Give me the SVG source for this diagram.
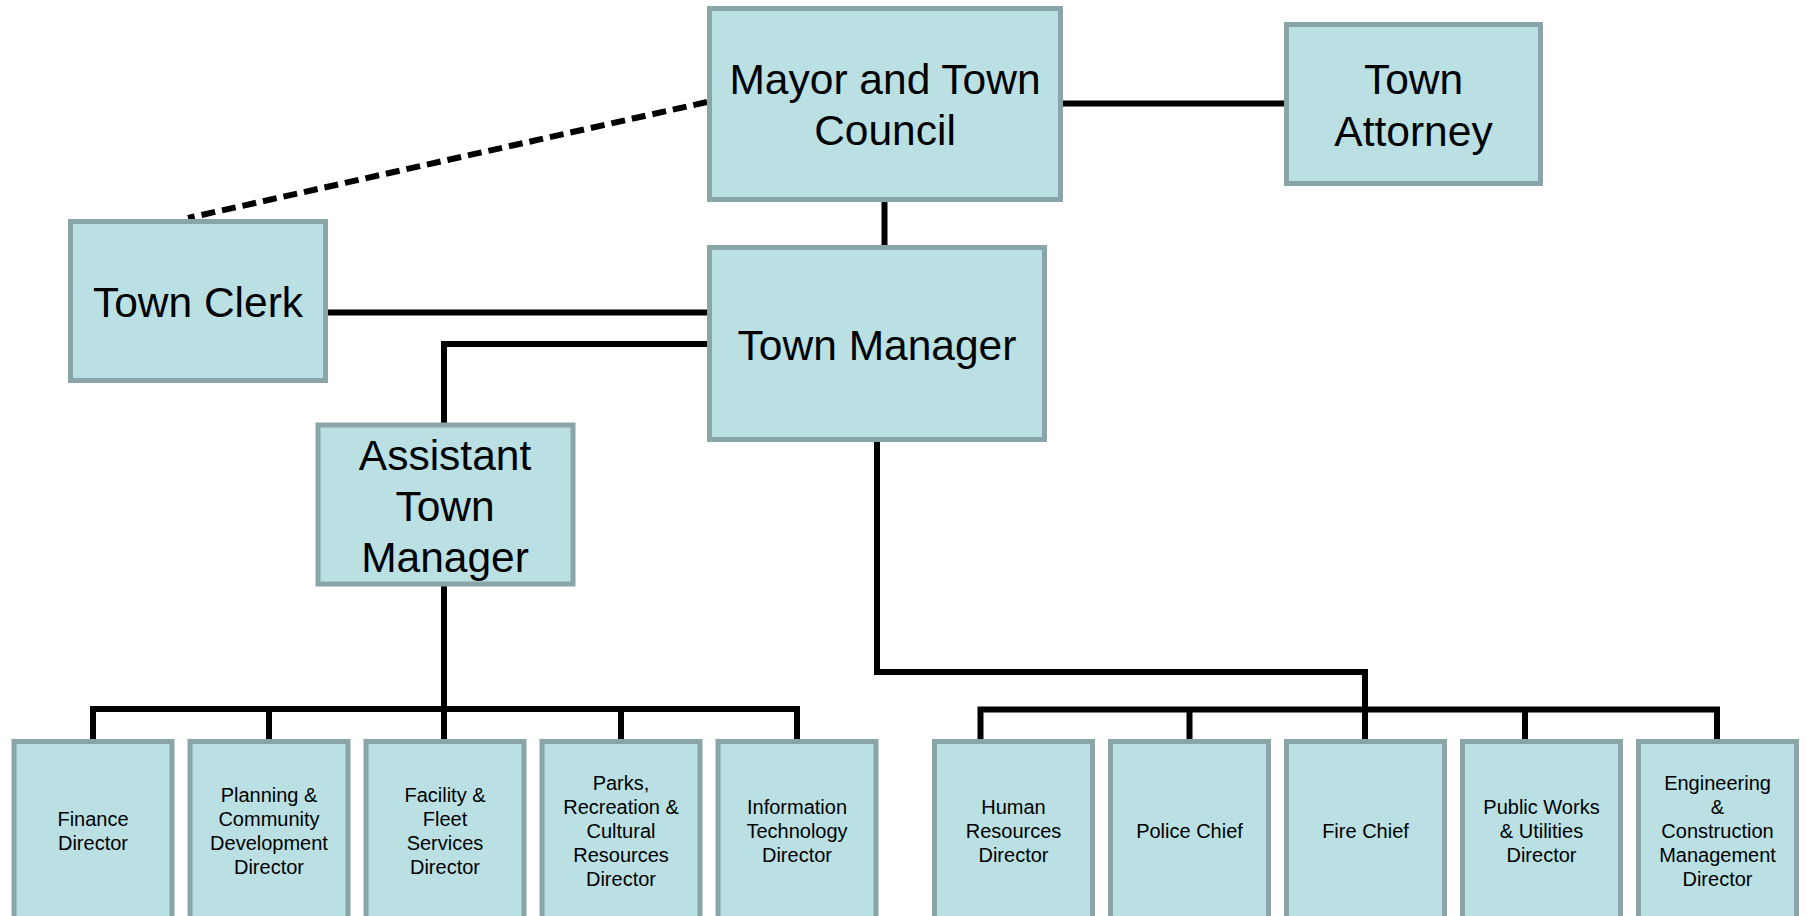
<svg xmlns="http://www.w3.org/2000/svg" width="1807" height="916" viewBox="0 0 1807 916">
<style>
.box{fill:#BBE0E3;stroke:#8AA5A8;stroke-width:5}
.big{font-family:"Liberation Sans",Arial,sans-serif;font-size:42.5px;fill:#000;text-anchor:middle}
.sm{font-family:"Liberation Sans",Arial,sans-serif;font-size:20px;fill:#000;text-anchor:middle}
.ln{fill:none;stroke:#000;stroke-width:6;stroke-linejoin:miter;stroke-linecap:butt}
.dash{fill:none;stroke:#000;stroke-width:6;stroke-dasharray:14 7}
</style>
<rect width="1807" height="916" fill="#fff"/>
<g id="connectors">
<path class="ln" d="M1063,103.5 H1284"/>
<path class="dash" d="M707,102 L188,218"/>
<path class="ln" d="M884.5,202 V245"/>
<path class="ln" d="M327,312.5 H707"/>
<path class="ln" d="M707,344 H444 V423"/>
<path class="ln" d="M444,586 V741"/>
<path class="ln" d="M93,741 V709 H797 V741"/>
<path class="ln" d="M269,709 V741 M621,709 V741"/>
<path class="ln" d="M877,442 V672 H1365 V741"/>
<path class="ln" d="M980.5,741 V709.5 H1717 V741"/>
<path class="ln" d="M1189.5,709.5 V741 M1525,709.5 V741"/>
</g>
<g id="mayor">
<rect class="box" x="709.5" y="8.5" width="351" height="191"/>
<text class="big" x="885" y="93.5">Mayor and Town</text>
<text class="big" x="885" y="145">Council</text>
</g>
<g id="attorney">
<rect class="box" x="1286.5" y="24.5" width="254" height="159"/>
<text class="big" x="1413.5" y="94">Town</text>
<text class="big" x="1413.5" y="145.5">Attorney</text>
</g>
<g id="clerk">
<rect class="box" x="70.5" y="221.5" width="255" height="159"/>
<text class="big" x="198" y="316.5">Town Clerk</text>
</g>
<g id="manager">
<rect class="box" x="709.5" y="247.5" width="335" height="192"/>
<text class="big" x="877" y="359.5">Town Manager</text>
</g>
<g id="assistant">
<rect class="box" x="318" y="425" width="255" height="159"/>
<text class="big" x="445" y="470">Assistant</text>
<text class="big" x="445" y="521">Town</text>
<text class="big" x="445" y="572">Manager</text>
</g>
<g id="finance">
<rect class="box" x="14" y="741.5" width="158" height="200"/>
<text class="sm" x="93" y="826">Finance</text>
<text class="sm" x="93" y="850">Director</text>
</g>
<g id="planning">
<rect class="box" x="190" y="741.5" width="158" height="200"/>
<text class="sm" x="269" y="802">Planning &amp;</text>
<text class="sm" x="269" y="826">Community</text>
<text class="sm" x="269" y="850">Development</text>
<text class="sm" x="269" y="874">Director</text>
</g>
<g id="facility">
<rect class="box" x="366" y="741.5" width="158" height="200"/>
<text class="sm" x="445" y="802">Facility &amp;</text>
<text class="sm" x="445" y="826">Fleet</text>
<text class="sm" x="445" y="850">Services</text>
<text class="sm" x="445" y="874">Director</text>
</g>
<g id="parks">
<rect class="box" x="542" y="741.5" width="158" height="200"/>
<text class="sm" x="621" y="790">Parks,</text>
<text class="sm" x="621" y="814">Recreation &amp;</text>
<text class="sm" x="621" y="838">Cultural</text>
<text class="sm" x="621" y="862">Resources</text>
<text class="sm" x="621" y="886">Director</text>
</g>
<g id="it">
<rect class="box" x="718" y="741.5" width="158" height="200"/>
<text class="sm" x="797" y="814">Information</text>
<text class="sm" x="797" y="838">Technology</text>
<text class="sm" x="797" y="862">Director</text>
</g>
<g id="hr">
<rect class="box" x="934.5" y="741.5" width="158" height="200"/>
<text class="sm" x="1013.5" y="814">Human</text>
<text class="sm" x="1013.5" y="838">Resources</text>
<text class="sm" x="1013.5" y="862">Director</text>
</g>
<g id="police">
<rect class="box" x="1110.5" y="741.5" width="158" height="200"/>
<text class="sm" x="1189.5" y="838">Police Chief</text>
</g>
<g id="fire">
<rect class="box" x="1286.5" y="741.5" width="158" height="200"/>
<text class="sm" x="1365.5" y="838">Fire Chief</text>
</g>
<g id="publicworks">
<rect class="box" x="1462.5" y="741.5" width="158" height="200"/>
<text class="sm" x="1541.5" y="814">Public Works</text>
<text class="sm" x="1541.5" y="838">&amp; Utilities</text>
<text class="sm" x="1541.5" y="862">Director</text>
</g>
<g id="engineering">
<rect class="box" x="1638.5" y="741.5" width="158" height="200"/>
<text class="sm" x="1717.5" y="790">Engineering</text>
<text class="sm" x="1717.5" y="814">&amp;</text>
<text class="sm" x="1717.5" y="838">Construction</text>
<text class="sm" x="1717.5" y="862">Management</text>
<text class="sm" x="1717.5" y="886">Director</text>
</g>
</svg>
